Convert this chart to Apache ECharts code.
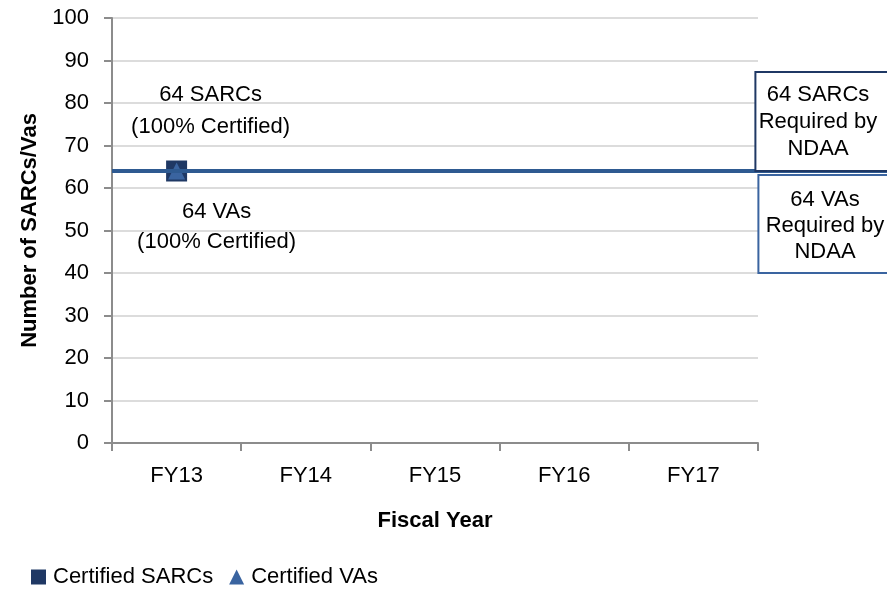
<!DOCTYPE html>
<html>
<head>
<meta charset="utf-8">
<script src="https://cdn.jsdelivr.net/npm/echarts@6/dist/echarts.min.js"></script>
<style>
  html, body { margin: 0; padding: 0; background: #fff; }
  #main { width: 887px; height: 590px; }
</style>
</head>
<body>
<div id="main"></div>
<script>
// data
var years = ['FY13', 'FY14', 'FY15', 'FY16', 'FY17'];
var certifiedSarcs = [64, null, null, null, null];
var certifiedVas = [64, null, null, null, null];
var requiredByNdaa = 64;
var yTicks = [0, 10, 20, 30, 40, 50, 60, 70, 80, 90, 100];

var FONT = '"Liberation Sans", Arial, sans-serif';
var FS = 22;

var chart = echarts.init(document.getElementById('main'));

var option = {
  animation: false,
  textStyle: { fontFamily: FONT },
  grid: { left: 112, right: 129, top: 18, bottom: 147 },
  legend: {
    left: 31, top: 566, padding: 0,
    itemWidth: 15, itemHeight: 15, itemGap: 16,
    textStyle: { fontSize: FS, color: '#000', fontFamily: FONT, padding: [0, 0, 0, 2] },
    data: [
      { name: 'Certified SARCs', icon: 'rect' },
      { name: 'Certified VAs', icon: 'triangle' }
    ]
  },
  xAxis: {
    type: 'category',
    data: years,
    boundaryGap: true,
    name: 'Fiscal Year',
    nameLocation: 'middle',
    nameGap: 67,
    nameTextStyle: { fontSize: FS, fontWeight: 'bold', color: '#000' },
    axisLine: { lineStyle: { color: '#8c8c8c', width: 2 } },
    axisTick: { show: true, length: 8, lineStyle: { color: '#8c8c8c', width: 2 } },
    axisLabel: { fontSize: FS, color: '#000', margin: 22 }
  },
  yAxis: {
    type: 'value',
    min: yTicks[0], max: yTicks[yTicks.length - 1], interval: 10,
    name: 'Number of SARCs/Vas',
    nameLocation: 'middle',
    nameGap: 70,
    nameTextStyle: { fontSize: FS, fontWeight: 'bold', color: '#000' },
    axisLine: { show: true, lineStyle: { color: '#8c8c8c', width: 2 } },
    axisTick: { show: true, length: 8, lineStyle: { color: '#8c8c8c', width: 2 } },
    axisLabel: { fontSize: FS, color: '#000', margin: 23 },
    splitLine: { lineStyle: { color: '#dcdcdc', width: 2 } }
  },
  series: [
    {
      name: 'Certified SARCs',
      type: 'line',
      data: certifiedSarcs,
      symbol: 'rect',
      symbolSize: 21,
      itemStyle: { color: '#1f3864' },
      lineStyle: { width: 0 },
      label: {
        show: true,
        position: 'top',
        offset: [34, -13],
        fontSize: FS,
        lineHeight: 32,
        color: '#000',
        formatter: function (p) { return p.value + ' SARCs\n(100% Certified)'; }
      },
      markLine: {
        silent: true,
        symbol: 'none',
        label: { show: false },
        lineStyle: { color: '#2e5a91', width: 4, type: 'solid' },
        data: [{ yAxis: requiredByNdaa }]
      },
      z: 3
    },
    {
      name: 'Certified VAs',
      type: 'line',
      data: certifiedVas,
      symbol: 'triangle',
      symbolSize: 17,
      itemStyle: { color: '#3a64a0' },
      lineStyle: { width: 0 },
      label: {
        show: true,
        position: 'bottom',
        offset: [40, 12],
        fontSize: FS,
        lineHeight: 30,
        color: '#000',
        formatter: function (p) { return p.value + ' VAs\n(100% Certified)'; }
      },
      z: 4
    }
  ]
};
chart.setOption(option);

// extend the NDAA line past the plot and add the callout boxes
var yLine = chart.convertToPixel({ yAxisIndex: 0 }, requiredByNdaa);
var xEnd = chart.convertToPixel({ xAxisIndex: 0 }, years[years.length - 1]) + 65;
chart.setOption({
  graphic: [
    {
      type: 'line',
      shape: { x1: xEnd - 2, y1: yLine, x2: 887, y2: yLine },
      style: { stroke: '#2e5a91', lineWidth: 4 }
    },
    {
      type: 'rect',
      shape: { x: xEnd - 3, y: 72, width: 140, height: 99 },
      style: { fill: '#fff', stroke: '#1f3864', lineWidth: 2 },
      z: 10
    },
    {
      type: 'text',
      x: 818, y: 122,
      style: {
        text: requiredByNdaa + ' SARCs\nRequired by\nNDAA',
        fontSize: FS, lineHeight: 27, fill: '#000', fontFamily: FONT,
        align: 'center', verticalAlign: 'middle'
      },
      z: 11
    },
    {
      type: 'rect',
      shape: { x: xEnd, y: 175, width: 140, height: 98 },
      style: { fill: '#fff', stroke: '#3a64a0', lineWidth: 2 },
      z: 10
    },
    {
      type: 'text',
      x: 825, y: 226,
      style: {
        text: requiredByNdaa + ' VAs\nRequired by\nNDAA',
        fontSize: FS, lineHeight: 26, fill: '#000', fontFamily: FONT,
        align: 'center', verticalAlign: 'middle'
      },
      z: 11
    }
  ]
});
</script>
</body>
</html>
